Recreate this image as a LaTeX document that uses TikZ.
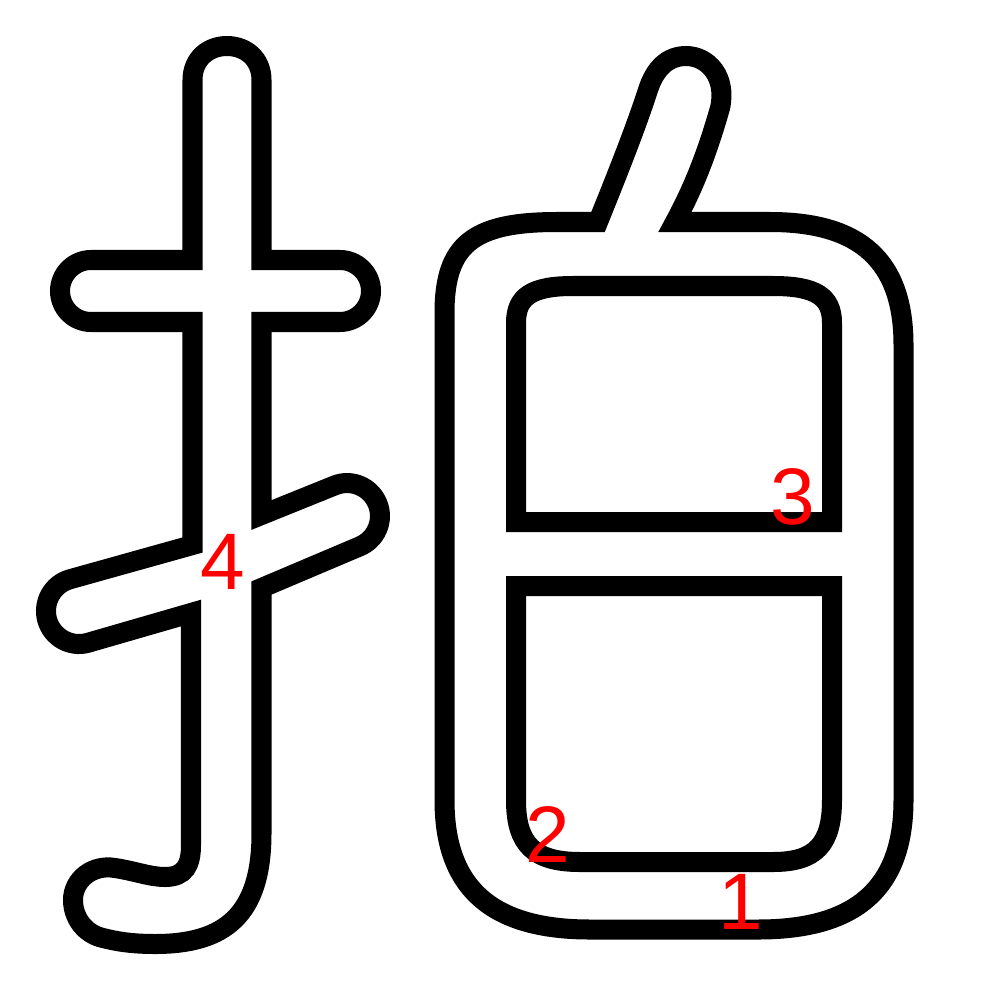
\documentclass[tikz,border=0pt]{standalone}
\usepackage{fontspec}
\setmainfont{Liberation Sans}
\begin{document}
\begin{tikzpicture}[x=0.01cm,y=-0.01cm,
  outline/.style={draw=black,line width=0.2cm,line join=miter},
  num/.style={text=red,inner sep=0pt,font=\fontsize{22.8pt}{24pt}\selectfont}]
\useasboundingbox (0,0) rectangle (1000,1000);
\fill[white] (0,0) rectangle (1000,1000);
% left component
\draw[outline] (261.5,80) -- (261.5,260) -- (340,260)
  .. controls (357,260) and (371,274) .. (371,291)
  .. controls (371,308) and (357,322) .. (340,322)
  -- (261.5,322) -- (261.5,515) -- (334.8,485.4)
  .. controls (351.7,478.6) and (370.8,486.9) .. (377.6,503.8)
  .. controls (384.4,520.7) and (376.1,539.8) .. (359.2,546.6)
  -- (261.5,588) -- (261.5,833)
  .. controls (261.5,915) and (225,944) .. (155,944)
  .. controls (130,944) and (115,941) .. (103,938)
  .. controls (85,934) and (73,918) .. (73,900)
  .. controls (73,880) and (92,864) .. (115,868)
  .. controls (135,871) and (150,877) .. (165,877)
  .. controls (185,877) and (191,865) .. (191,845)
  -- (191,613) -- (87.9,642.8)
  .. controls (70.4,647.7) and (52.1,637.4) .. (47.2,619.9)
  .. controls (42.3,602.4) and (52.6,584.1) .. (70.1,579.2)
  -- (192.5,545) -- (192.5,322) -- (91,322)
  .. controls (74,322) and (60,308) .. (60,291)
  .. controls (60,274) and (74,260) .. (91,260)
  -- (192.5,260) -- (192.5,80)
  .. controls (192.5,59) and (208,46) .. (227,46)
  .. controls (246,46) and (261.5,59) .. (261.5,80) -- cycle;
% right component outer
\draw[outline] (598,222)
  .. controls (615,180) and (635,130) .. (648,90)
  .. controls (655,68) and (668,56) .. (686,56)
  .. controls (708,56) and (727,77) .. (720,108)
  .. controls (708,150) and (695,185) .. (675,222)
  -- (770,222)
  .. controls (860.8,222) and (903.5,261.4) .. (903.5,345)
  -- (903.5,800)
  .. controls (903.5,887.7) and (856.9,929.5) .. (758,929.5)
  -- (590,929.5)
  .. controls (491.1,929.5) and (444.5,887.7) .. (444.5,800)
  -- (444.5,313)
  .. controls (444.5,244.7) and (472.6,222) .. (557,222)
  -- cycle;
% inner upper box
\draw[outline] (516,522) -- (516,323)
  .. controls (516,296.4) and (532,286) .. (573,286)
  -- (773,286)
  .. controls (815.5,286) and (832,296.4) .. (832,323)
  -- (832,522) -- cycle;
% inner lower box
\draw[outline] (516,586) -- (832,586) -- (832,800)
  .. controls (832,844.6) and (815.5,862) .. (773,862)
  -- (580,862)
  .. controls (534,862) and (516,844.6) .. (516,800) -- cycle;
% stroke numbers
\node[num] (n1) at (741,902) {1};
\node[num] (n2) at (548,834) {2};
\node[num] (n3) at (793,497) {3};
\node[num] (n4) at (223,562) {4};
\end{tikzpicture}
\end{document}
